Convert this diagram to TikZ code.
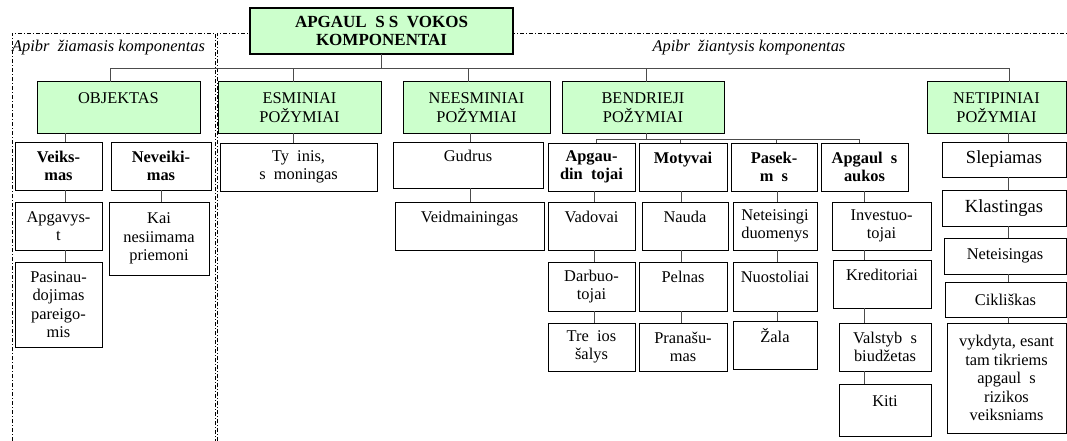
\documentclass[tikz,border=0pt]{standalone}
\usepackage{fontspec}
\setmainfont{Liberation Serif}
\usetikzlibrary{positioning}
\definecolor{lgreen}{RGB}{204,255,204}
\tikzset{
    box/.style={draw, line width=1pt, anchor=north west, inner sep=0pt, outer sep=0pt, align=center, fill=white},
    grbox/.style={box, fill=lgreen},
    bbox/.style={box, font=\fontsize{16.4}{18.5}\selectfont\bfseries},
    ln/.style={draw=black!70, line width=0.8pt},
    frame/.style={line width=0.8pt, dash pattern=on 4pt off 2pt on 1pt off 2pt},
    lbl/.style={font=\fontsize{16.4}{18.5}\selectfont\itshape, inner sep=0pt}
}

\begin{document}
\begin{tikzpicture}[x=1pt, y=-1pt, font=\fontsize{16.4}{18.5}\selectfont]
    \useasboundingbox (0,0) rectangle (1067,441);

    % dash-dotted frames
    \draw[frame] (12,441) -- (12,33) -- (215,33) -- (215,441);
    \draw[frame] (217,441) -- (217,33) -- (1067,33);
    \node[lbl, anchor=west] (lblL) at (12,48) {Apibr\ \ žiamasis komponentas};
    \node[lbl] (lblR) at (749,48) {Apibr\ \ žiantysis komponentas};

    % top
    \node[grbox, line width=1.6pt, minimum width=263pt, minimum height=46pt,
        font=\fontsize{17}{18.5}\selectfont\bfseries] (top) at (250,8) {APGAUL\ \ S S\ \ VOKOS\\KOMPONENTAI};

    % first level
    \node[grbox, minimum width=163pt, minimum height=51pt] (obj) at (37,82) {OBJEKTAS\\\mbox{}};
    \node[grbox, minimum width=163pt, minimum height=51pt] (esm) at (218,82) {ESMINIAI\\POŽYMIAI};
    \node[grbox, minimum width=147pt, minimum height=51pt] (nees) at (403,82) {NEESMINIAI\\POŽYMIAI};
    \node[grbox, minimum width=162pt, minimum height=51pt] (bend) at (562,82) {BENDRIEJI\\POŽYMIAI};
    \node[grbox, minimum width=139pt, minimum height=51pt] (netip) at (927,82) {NETIPINIAI\\POŽYMIAI};

    % objektas
    \node[bbox, minimum width=87pt, minimum height=48pt] (veiks) at (15,142) {Veiks-\\mas};
    \node[bbox, minimum width=100pt, minimum height=48pt] (nevk) at (111,142) {Neveiki-\\mas};
    \node[box, minimum width=87pt, minimum height=48pt] (apgv) at (15,202) {Apgavys-\\t};
    \node[box, minimum width=87pt, minimum height=85pt] (pasin) at (15,262) {Pasinau-\\dojimas\\pareigo-\\mis};
    \node[box, minimum width=100pt, minimum height=73pt] (kai) at (109,202) {Kai\\nesiimama\\priemoni};

    % esminiai, neesminiai
    \node[box, minimum width=157pt, minimum height=48pt] (tyc) at (220,143) {Ty\ \ inis,\\s\ \ moningas};
    \node[box, minimum width=150pt, minimum height=46pt] (gud) at (393,142) {Gudrus\\\mbox{}};
    \node[box, minimum width=149pt, minimum height=48pt] (veid) at (395,202) {Veidmainingas\\\mbox{}};

    % bendrieji
    \node[bbox, minimum width=87pt, minimum height=48pt] (apgd) at (548,143) {Apgau-\\din\ \ tojai};
    \node[bbox, minimum width=88pt, minimum height=48pt] (mot) at (639,143) {Motyvai\\\mbox{}};
    \node[bbox, minimum width=86pt, minimum height=48pt] (pas) at (731,143) {Pasek-\\m\ \ s};
    \node[bbox, minimum width=87pt, minimum height=48pt] (auk) at (821,143) {Apgaul\ \ s\\aukos};

    \node[box, minimum width=87pt, minimum height=48pt] (vad) at (548,202) {Vadovai\\\mbox{}};
    \node[box, minimum width=87pt, minimum height=49pt] (darb) at (548,262) {Darbuo-\\tojai};
    \node[box, minimum width=87pt, minimum height=48pt] (trec) at (548,323) {Tre\ \ ios\\šalys};

    \node[box, minimum width=86pt, minimum height=48pt] (naud) at (642,202) {Nauda\\\mbox{}};
    \node[box, minimum width=88pt, minimum height=49pt] (peln) at (639,262) {Pelnas\\\mbox{}};
    \node[box, minimum width=88pt, minimum height=48pt] (pran) at (639,323) {Pranašu-\\mas};

    \node[box, minimum width=84pt, minimum height=48pt] (net) at (733,202) {Neteisingi\\duomenys};
    \node[box, minimum width=84pt, minimum height=49pt] (nuost) at (733,262) {Nuostoliai\\\mbox{}};
    \node[box, minimum width=84pt, minimum height=48pt] (zala) at (733,321) {Žala\\\mbox{}};

    \node[box, minimum width=99pt, minimum height=48pt] (inv) at (832,202) {Investuo-\\tojai};
    \node[box, minimum width=98pt, minimum height=48pt] (kred) at (833,260) {Kreditoriai\\\mbox{}};
    \node[box, minimum width=92pt, minimum height=48pt] (valst) at (839,323) {Valstyb\ \ s\\biudžetas};
    \node[box, minimum width=92pt, minimum height=52pt] (kiti) at (839,384) {Kiti\\\mbox{}};

    % netipiniai
    \node[box, minimum width=124pt, minimum height=35pt, font=\fontsize{18.5}{20}\selectfont] (slep) at (942,142) {Slepiamas};
    \node[box, minimum width=124pt, minimum height=36pt, font=\fontsize{18.5}{20}\selectfont] (klast) at (942,190) {Klastingas};
    \node[box, minimum width=122pt, minimum height=36pt] (netei) at (944,238) {Neteisingas};
    \node[box, minimum width=121pt, minimum height=35pt] (cikl) at (945,282) {Cikliškas};
    \node[box, minimum width=119pt, minimum height=110pt] (vykd) at (947,323) {vykdyta, esant\\tam tikriems\\apgaul\ \ s\\rizikos\\veiksniams};

    % bus lines
    \coordinate (bus) at (0,68);
    \coordinate (bus2) at (0,139);
    \coordinate (dO) at (110,0);
    \coordinate (dE) at (293,0);
    \coordinate (dG) at (468,0);
    \coordinate (dB) at (646,0);
    \coordinate (dN) at (1009,0);
    \draw[ln] (top.south) -- (top.south |- bus);
    \draw[ln] (obj.north -| dO) -- (bus -| dO) -- (bus -| dN) -- (netip.north -| dN);
    \foreach \n/\d in {esm/dE, nees/dG, bend/dB}
        \draw[ln] (\n.north -| \d) -- (bus -| \d);
    \draw[ln] (bend.south -| dB) -- (bus2 -| dB);
    \draw[ln] ([xshift=4.5pt]apgd.north) |- ([xshift=-5.5pt]auk.north |- bus2) -- ([xshift=-5.5pt]auk.north);
    \foreach \n/\s in {mot/-3, pas/2}
        \draw[ln] ([xshift=\s pt]\n.north) -- ([xshift=\s pt]\n.north |- bus2);

    % columns
    \coordinate (cO) at (65,0);
    \coordinate (cV) at (161,0);
    \coordinate (cE) at (293,0);
    \coordinate (cG) at (470,0);
    \coordinate (cA) at (594,0);
    \coordinate (cM) at (681,0);
    \coordinate (cP) at (777,0);
    \coordinate (cK) at (864,0);
    \coordinate (cN) at (1008,0);
    \foreach \a/\b/\c in {obj/veiks/cO, veiks/apgv/cO, apgv/pasin/cO, nevk/kai/cV,
        esm/tyc/cE, nees/gud/cG, gud/veid/cG,
        apgd/vad/cA, vad/darb/cA, darb/trec/cA,
        mot/naud/cM, naud/peln/cM, peln/pran/cM,
        pas/net/cP, net/nuost/cP, nuost/zala/cP,
        auk/inv/cK, inv/kred/cK, kred/valst/cK, valst/kiti/cK,
        netip/slep/cN, slep/klast/cN, klast/netei/cN, netei/cikl/cN, cikl/vykd/cN}
        \draw[ln] (\a.south -| \c) -- (\b.north -| \c);
\end{tikzpicture}
\end{document}
